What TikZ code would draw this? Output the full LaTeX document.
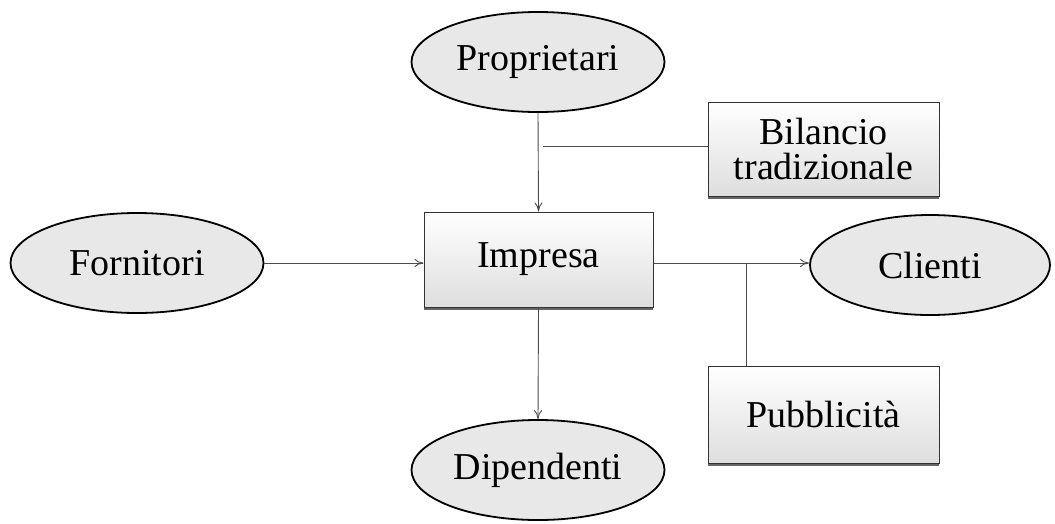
\documentclass[tikz,border=0pt]{standalone}
\usepackage{fontspec}
\setmainfont{Liberation Serif}
\usetikzlibrary{shapes.geometric,shadows,arrows.meta}
\begin{document}
\begin{tikzpicture}[x=1pt,y=-1pt,
  actor/.style={ellipse, draw=black, line width=1.8pt, fill=black!9,
    minimum width=253pt, minimum height=100pt, inner sep=0pt,
    font=\fontsize{38}{38}\selectfont},
  panel/.style={rectangle, draw=black!80, line width=1pt,
    top color=white, bottom color=black!13,
    drop shadow={shadow xshift=0pt, shadow yshift=-3pt, fill=black!60, opacity=1},
    inner sep=0pt, align=center,
    font=\fontsize{38}{35}\selectfont},
  link/.style={draw=black!70, line width=0.9pt},
  flow/.style={link, -{To[length=9pt,width=8pt]}}]
  \useasboundingbox (0,0) rectangle (1055,523);

  \node[actor] (prop) at (538,62) {Proprietari};
  \node[actor] (forn) at (137,263) {Fornitori};
  \node[actor, minimum width=240pt] (cli) at (930,265) {Clienti};
  \node[actor] (dip) at (538,470) {Dipendenti};

  \node[panel, minimum width=229pt, minimum height=95pt] (imp) at (538.5,259.5) {Impresa};
  \node[panel, minimum width=231pt, minimum height=94pt] (bil) at (823.5,149) {Bilancio\\tradizionale};
  \node[panel, minimum width=231pt, minimum height=97pt] (pub) at (823.5,414.5) {Pubblicità};

  \coordinate (bilEnd) at (543,146);
  \coordinate (pubJoin) at (746,263);

  \draw[flow] (prop.south) -- (imp.north);
  \draw[link] (bil.west |- bilEnd) -- (bilEnd);
  \draw[flow] (forn.east) -- (forn.east -| imp.west);
  \draw[flow] (imp.east |- pubJoin) -- (cli.west |- pubJoin);
  \draw[link] (pub.north -| pubJoin) -- (pubJoin);
  \draw[flow] (imp.south) -- (dip.north);
\end{tikzpicture}
\end{document}
